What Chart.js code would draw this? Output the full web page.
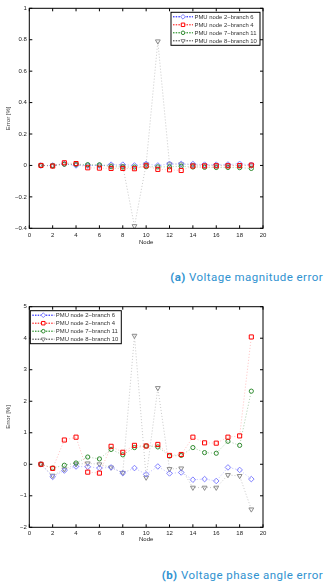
<!DOCTYPE html>
<html>
<head>
<meta charset="utf-8">
<script src="https://cdn.jsdelivr.net/npm/chart.js@4"></script>
<style>
  body { margin: 0; background: #fff; width: 334px; height: 584px; position: relative; overflow: hidden; }
  .wrap { position: absolute; left: 0; width: 334px; }
  .caption { position: absolute; right: 11px; font-family: Roboto, "Open Sans", sans-serif; font-size: 11.5px; letter-spacing: 0.45px; color: #2f92d0; white-space: nowrap; }
  .caption b { font-weight: 700; }
</style>
</head>
<body>
<div class="wrap" style="top:0;height:250px"><canvas id="magChart" width="334" height="250"></canvas></div>
<div class="caption" style="top:269.5px"><b>(a)</b> Voltage magnitude error</div>
<div class="wrap" style="top:290px;height:258px"><canvas id="angChart" width="334" height="258"></canvas></div>
<div class="caption" style="top:567.5px"><b>(b)</b> Voltage phase angle error</div>
<script>
// x positions (node numbers)
const nodes = [1, 2, 3, 4, 5, 6, 7, 8, 9, 10, 11, 12, 13, 14, 15, 16, 17, 18, 19];
const seriesLabels = ['PMU node 2\u2212branch 6', 'PMU node 2\u2212branch 4', 'PMU node 7\u2212branch 11', 'PMU node 8\u2212branch 10'];

// (a) voltage magnitude error [%]
const magB6 = [0, 0, 0.01, 0, 0, 0, 0.005, 0.005, 0, 0.01, 0, 0.01, 0.01, 0.009, 0.005, 0.005, 0.006, 0.01, 0.004];
const magB4 = [0, -0.004, 0.017, 0.012, -0.015, -0.017, -0.019, -0.019, -0.021, -0.002, -0.025, -0.028, -0.032, -0.004, -0.003, -0.002, -0.002, -0.001, 0.002];
const magB11 = [0, -0.002, 0.008, 0.008, 0.005, 0.004, -0.008, -0.01, -0.01, -0.008, -0.009, -0.009, -0.005, -0.01, -0.012, -0.013, -0.013, -0.014, -0.019];
const magB10 = [0, 0, 0.008, 0.004, 0, 0, 0, -0.004, -0.386, 0.008, 0.79, 0.008, 0.008, 0.004, 0, 0, 0, 0, 0];

// (b) voltage phase angle error [%]
const angB6 = [0, -0.4, -0.2, -0.07, -0.08, -0.12, -0.1, -0.28, -0.12, -0.32, -0.07, -0.29, -0.26, -0.49, -0.47, -0.53, -0.1, -0.18, -0.47];
const angB4 = [0, -0.13, 0.77, 0.86, -0.25, -0.28, 0.57, 0.38, 0.6, 0.58, 0.63, 0.28, 0.31, 0.86, 0.68, 0.67, 0.86, 0.9, 4.04];
const angB11 = [0, -0.12, -0.03, 0.04, 0.23, 0.17, 0.47, 0.3, 0.53, 0.58, 0.55, 0.26, 0.28, 0.53, 0.37, 0.35, 0.73, 0.6, 2.32];
const angB10 = [0, -0.36, -0.16, 0, 0.03, 0, -0.1, -0.27, 4.08, -0.42, 2.42, -0.15, -0.13, -0.74, -0.74, -0.74, -0.34, -0.37, -1.43];

const FONT = 'Liberation Sans, Arial, sans-serif';

// marker / line look per series
const styles = [
    { line: 'rgba(110,110,255,0.55)', legendLine: '#0000ff', point: '#8080ff', pointStyle: 'rectRot', radius: 2.8, rotation: 0, order: 2 },
    { line: 'rgba(255,110,110,0.55)', legendLine: '#ff0000', point: '#ff0000', pointStyle: 'rect', radius: 2.9, rotation: 0, order: 0 },
    { line: 'rgba(40,130,40,0.5)', legendLine: '#007f00', point: '#2f8a2f', pointStyle: 'circle', radius: 2.1, rotation: 0, order: 1 },
    { line: 'rgba(120,120,120,0.5)', legendLine: '#333333', point: '#8a8a8a', pointStyle: 'triangle', radius: 2.8, rotation: 180, order: 3 },
];

function toPoints(values) {
    return nodes.map((n, i) => ({ x: n, y: values[i] }));
}

function buildDatasets(seriesList) {
    return seriesList.map((values, i) => {
        const s = styles[i];
        return {
            label: seriesLabels[i],
            data: toPoints(values),
            borderColor: s.line,
            borderWidth: 0.8,
            borderDash: [1, 2],
            pointStyle: s.pointStyle,
            pointRadius: s.radius,
            pointRotation: s.rotation,
            pointBorderColor: s.point,
            pointBackgroundColor: 'rgba(255,255,255,0)',
            pointBorderWidth: 1,
            order: s.order,
            fill: false,
            tension: 0,
        };
    });
}

function fmtTick(v) {
    const r = Math.round(v * 10) / 10;
    return String(r).replace('-', '\u2212');
}

// frame + inward tick marks like the original figure
const framePlugin = {
    id: 'frame',
    afterDraw(chart) {
        const { ctx, chartArea: a, scales } = chart;
        ctx.save();
        ctx.strokeStyle = '#000';
        ctx.lineWidth = 1;
        ctx.strokeRect(a.left, a.top, a.right - a.left, a.bottom - a.top);
        ctx.beginPath();
        scales.x.ticks.forEach(t => {
            const px = scales.x.getPixelForValue(t.value);
            ctx.moveTo(px, a.bottom); ctx.lineTo(px, a.bottom - 3);
            ctx.moveTo(px, a.top); ctx.lineTo(px, a.top + 3);
        });
        scales.y.ticks.forEach(t => {
            const py = scales.y.getPixelForValue(t.value);
            ctx.moveTo(a.left, py); ctx.lineTo(a.left + 3, py);
            ctx.moveTo(a.right, py); ctx.lineTo(a.right - 3, py);
        });
        ctx.stroke();
        ctx.restore();
    }
};

// boxed legend drawn inside the plot
const boxLegendPlugin = {
    id: 'boxLegend',
    afterDraw(chart, args, opts) {
        const { ctx, chartArea: a } = chart;
        const x0 = opts.side === 'right' ? a.right - opts.width - 3 : a.left + 1;
        const y0 = a.top + 4;
        const rowH = 8;
        const h = rowH * 4 + 1;
        ctx.save();
        ctx.fillStyle = '#fff';
        ctx.fillRect(x0, y0, opts.width, h);
        ctx.strokeStyle = '#000';
        ctx.lineWidth = 1;
        ctx.strokeRect(x0, y0, opts.width, h);
        ctx.font = '5.9px ' + FONT;
        ctx.textBaseline = 'middle';
        chart.data.datasets.forEach((ds, i) => {
            const s = styles[i];
            const cy = y0 + 4.5 + i * rowH;
            ctx.setLineDash([1.5, 1.2]);
            ctx.strokeStyle = s.legendLine;
            ctx.lineWidth = 1;
            ctx.beginPath();
            ctx.moveTo(x0 + 2, cy);
            ctx.lineTo(x0 + opts.lineLen, cy);
            ctx.stroke();
            ctx.setLineDash([]);
            ctx.fillStyle = '#fff';
            ctx.strokeStyle = s.point;
            Chart.helpers.drawPoint(ctx, {
                pointStyle: s.pointStyle, radius: s.radius * 0.85, rotation: s.rotation,
                borderWidth: 1
            }, x0 + 2 + (opts.lineLen - 2) / 2, cy);
            ctx.fillStyle = '#333';
            ctx.fillText(ds.label, x0 + opts.lineLen + 1.5, cy + 0.3);
        });
        ctx.restore();
    }
};

function makeChart(id, seriesList, yMin, yMax, yStep, pad, xAxisH, xTickPad, legendOpts) {
    const el = document.getElementById(id);
    return new Chart(el.getContext('2d'), {
        type: 'line',
        data: { datasets: buildDatasets(seriesList) },
        options: {
            responsive: false,
            animation: false,
            layout: { padding: pad },
            plugins: {
                legend: { display: false },
                tooltip: { enabled: false },
                boxLegend: legendOpts,
            },
            scales: {
                x: {
                    type: 'linear',
                    min: 0, max: 20,
                    grid: { display: false, drawTicks: false },
                    border: { display: false },
                    ticks: { stepSize: 2, padding: xTickPad, color: '#222', font: { family: FONT, size: 6 }, maxRotation: 0 },
                    title: { display: true, text: 'Node', color: '#222', padding: 0, font: { family: FONT, size: 6 } },
                    afterFit: (scale) => { scale.height = xAxisH; },
                },
                y: {
                    min: yMin, max: yMax,
                    grid: { display: false, drawTicks: false },
                    border: { display: false },
                    ticks: { stepSize: yStep, padding: 2.5, color: '#222', font: { family: FONT, size: 6 }, callback: fmtTick },
                    title: { display: true, text: 'Error [%]', color: '#333', padding: { top: 5, bottom: 0 }, font: { family: FONT, size: 6 } },
                    afterFit: (scale) => { scale.width = 29.3; },
                }
            }
        },
        plugins: [framePlugin, boxLegendPlugin]
    });
}

makeChart('magChart', [magB6, magB4, magB11, magB10], -0.4, 1, 0.2,
    { top: 8.3, right: 71, bottom: 4.4, left: 0 }, 17.3, 3,
    { side: 'right', width: 89, lineLen: 22 });

makeChart('angChart', [angB6, angB4, angB11, angB10], -2, 5, 1,
    { top: 16.7, right: 71, bottom: 5.4, left: 0 }, 15.3, 2,
    { side: 'left', width: 91, lineLen: 24 });
</script>
</body>
</html>
